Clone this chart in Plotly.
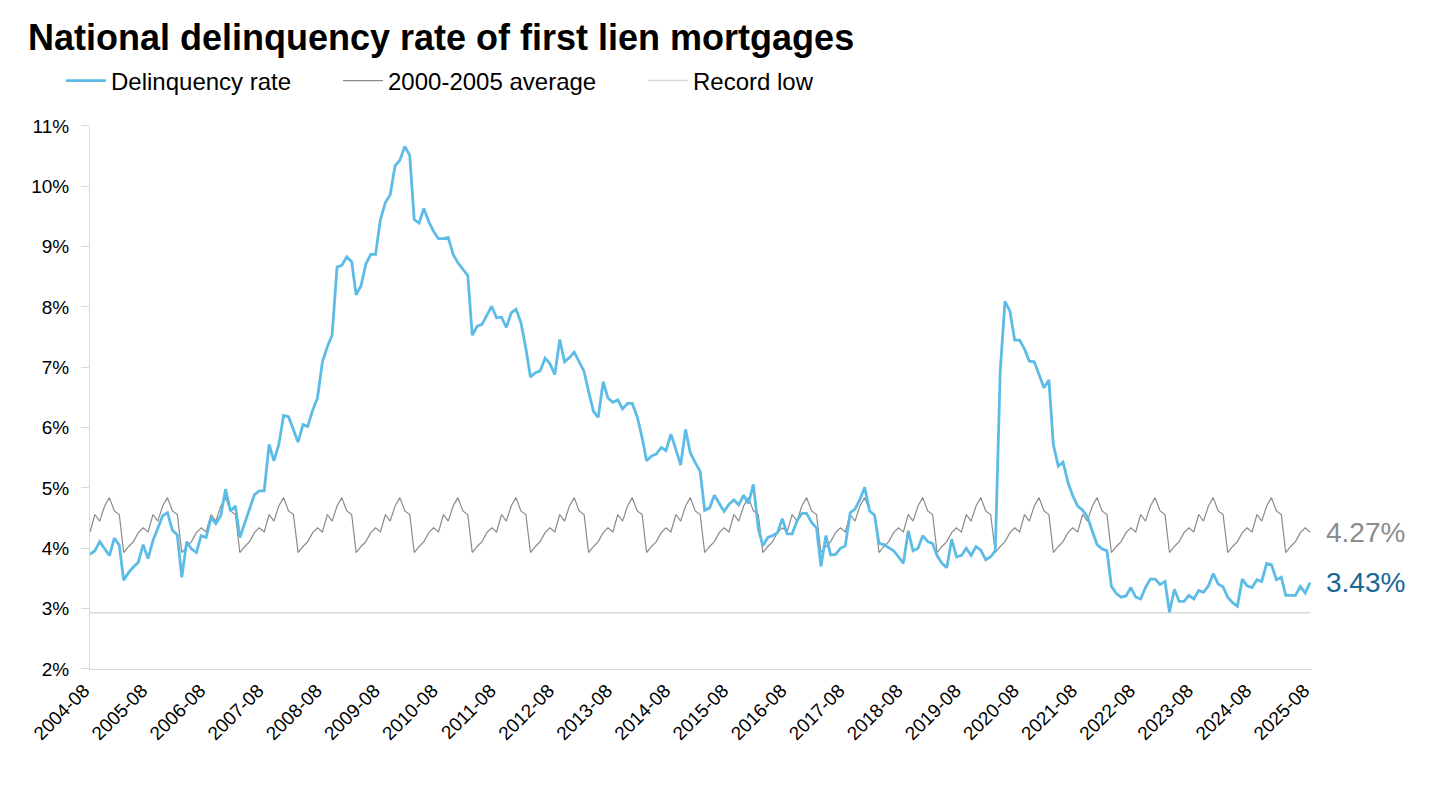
import pandas as pd
import plotly.graph_objects as go

# ---------------- data ----------------
start_month = "2004-08-01"
delinquency_rate = [
    3.90, 3.96, 4.11, 4.00, 3.88, 4.17, 4.05, 3.47, 3.60, 3.69, 3.77, 4.06,
    3.83, 4.13, 4.34, 4.54, 4.59, 4.30, 4.22, 3.52, 4.11, 3.99, 3.93, 4.21,
    4.18, 4.51, 4.41, 4.54, 4.98, 4.62, 4.70, 4.18, 4.42, 4.66, 4.89, 4.95,
    4.95, 5.72, 5.45, 5.72, 6.20, 6.18, 5.95, 5.76, 6.05, 6.02, 6.29, 6.49,
    7.09, 7.34, 7.53, 8.66, 8.69, 8.83, 8.75, 8.20, 8.35, 8.71, 8.87, 8.87,
    9.45, 9.73, 9.86, 10.34, 10.43, 10.66, 10.51, 9.45, 9.39, 9.63, 9.41, 9.25,
    9.13, 9.13, 9.15, 8.87, 8.73, 8.62, 8.52, 7.53, 7.68, 7.71, 7.86, 8.01,
    7.82, 7.83, 7.66, 7.90, 7.96, 7.74, 7.31, 6.84, 6.91, 6.94, 7.15, 7.06,
    6.88, 7.46, 7.09, 7.16, 7.25, 7.10, 6.93, 6.60, 6.27, 6.17, 6.76, 6.49,
    6.42, 6.46, 6.31, 6.40, 6.40, 6.18, 5.83, 5.45, 5.53, 5.56, 5.67, 5.62,
    5.89, 5.64, 5.38, 5.97, 5.58, 5.42, 5.27, 4.63, 4.67, 4.88, 4.74, 4.61,
    4.73, 4.80, 4.72, 4.88, 4.74, 5.06, 4.33, 4.04, 4.18, 4.21, 4.26, 4.49,
    4.24, 4.24, 4.45, 4.58, 4.58, 4.43, 4.34, 3.70, 4.21, 3.89, 3.90, 4.00,
    4.04, 4.59, 4.65, 4.81, 5.01, 4.62, 4.55, 4.08, 4.06, 4.01, 3.96, 3.86,
    3.75, 4.29, 3.96, 4.00, 4.21, 4.11, 4.08, 3.88, 3.75, 3.68, 4.15, 3.86,
    3.88, 4.00, 3.88, 4.03, 3.97, 3.81, 3.86, 3.96, 6.93, 8.09, 7.93, 7.45,
    7.45, 7.30, 7.10, 7.09, 6.88, 6.66, 6.79, 5.72, 5.36, 5.43, 5.09, 4.87,
    4.70, 4.63, 4.52, 4.29, 4.06, 3.99, 3.96, 3.37, 3.25, 3.19, 3.21, 3.35,
    3.19, 3.16, 3.35, 3.49, 3.49, 3.40, 3.45, 2.94, 3.32, 3.12, 3.12, 3.22,
    3.16, 3.30, 3.27, 3.38, 3.58, 3.41, 3.36, 3.19, 3.10, 3.04, 3.49, 3.38,
    3.35, 3.48, 3.45, 3.75, 3.73, 3.48, 3.52, 3.22, 3.22, 3.22, 3.37, 3.26,
    3.43,
]
# 2000-2005 seasonal average, by calendar month (1 = Jan ... 12 = Dec)
avg_months = [1, 2, 3, 4, 5, 6, 7, 8, 9, 10, 11, 12]
avg_values = [4.62, 4.56, 3.93, 4.03, 4.11, 4.26, 4.34, 4.27, 4.56, 4.45, 4.70, 4.84]
record_low = 2.93
y_ticks = [2, 3, 4, 5, 6, 7, 8, 9, 10, 11]

# ---------------- build ----------------
dates = pd.date_range(start_month, periods=len(delinquency_rate), freq="MS")
avg_by_month = dict(zip(avg_months, avg_values))
average_series = [avg_by_month[d.month] for d in dates]
record_series = [record_low] * len(dates)

BLUE = "#5DBCE6"
GRAY = "#8A8A8A"
LIGHT = "#D9D9D9"
FONT = "Liberation Sans, Arial, sans-serif"

fig = go.Figure()
fig.add_trace(go.Scatter(x=dates, y=record_series, mode="lines", name="Record low",
                         line=dict(color=LIGHT, width=1.5), legend="legend3", showlegend=True))
fig.add_trace(go.Scatter(x=dates, y=average_series, mode="lines", name="2000-2005 average",
                         line=dict(color=GRAY, width=1.2), legend="legend2", showlegend=True))
fig.add_trace(go.Scatter(x=dates, y=delinquency_rate, mode="lines", name="Delinquency rate",
                         line=dict(color=BLUE, width=2.8), legend="legend", showlegend=True))

# end labels
fig.add_annotation(x=dates[-1], y=average_series[-1], text=f"{average_series[-1]:.2f}%",
                   showarrow=False, xanchor="left", xshift=14,
                   font=dict(family=FONT, size=28, color="#8C8C8C"))
fig.add_annotation(x=dates[-1], y=delinquency_rate[-1], text=f"{delinquency_rate[-1]:.2f}%",
                   showarrow=False, xanchor="left", xshift=14,
                   font=dict(family=FONT, size=28, color="#1A6796"))

W, H = 1456, 788
leg_common = dict(orientation="h", xref="container", yref="container", yanchor="middle",
                  y=1 - 81 / H, xanchor="left", bgcolor="rgba(0,0,0,0)", itemwidth=40,
                  font=dict(family=FONT, size=24, color="#000000"))
fig.update_layout(
    width=W, height=H, showlegend=True,
    paper_bgcolor="white", plot_bgcolor="white",
    margin=dict(l=90, r=144, t=122, b=119),
    title=dict(text="<b>National delinquency rate of first lien mortgages</b>",
               xref="container", yref="container", x=28 / W, xanchor="left",
               y=1 - 37 / H, yanchor="middle",
               font=dict(family=FONT, size=36, color="#000000")),
    legend=dict(leg_common, x=61 / W),
    legend2=dict(leg_common, x=338 / W),
    legend3=dict(leg_common, x=643 / W),
    xaxis=dict(type="date", range=[dates[0], dates[-1] + pd.Timedelta(days=12)],
               tick0=dates[0], dtick="M12", tickformat="%Y-%m", tickangle=-45,
               ticklabelshift=-6, ticklabelstandoff=2,
               showgrid=False, zeroline=False, showline=True, linecolor=LIGHT, linewidth=1,
               ticks="", tickfont=dict(family=FONT, size=19, color="#000000")),
    yaxis=dict(range=[2, 11], tickvals=y_ticks, ticktext=[f"{v}%" for v in y_ticks],
               showgrid=False, zeroline=False, showline=True, linecolor=LIGHT, linewidth=1,
               ticks="outside", ticklen=8, tickcolor=LIGHT, ticklabelstandoff=8,
               tickfont=dict(family=FONT, size=19, color="#000000")),
)

fig.write_html("out.html", post_script="document.body.style.margin='0';",
               config={"displayModeBar": False})
